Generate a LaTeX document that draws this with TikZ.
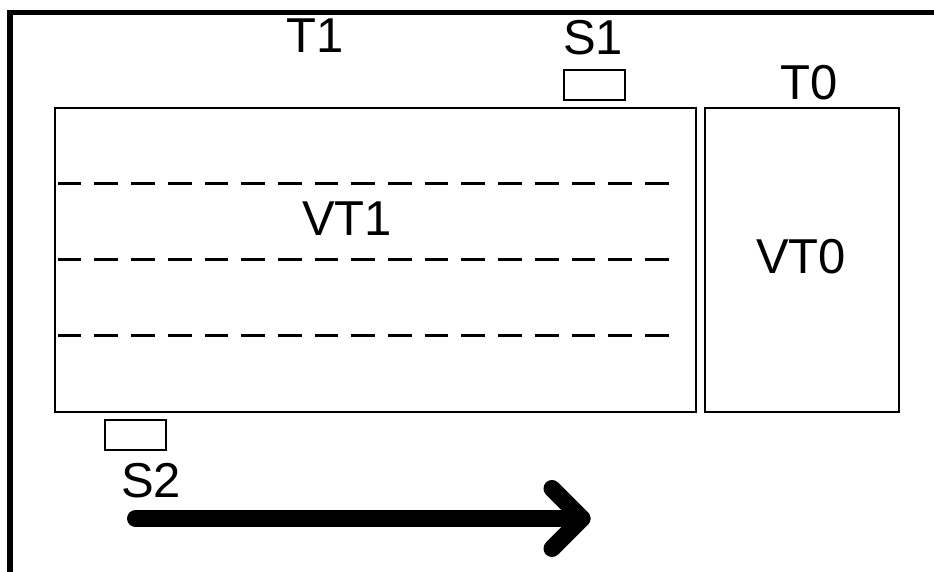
\documentclass[tikz,border=0pt]{standalone}
\usepackage{fontspec}
\setmainfont{Liberation Sans}
\begin{document}
\begin{tikzpicture}[x=1bp,y=-1bp,
  lbl/.style={inner sep=0pt,font=\fontsize{49bp}{58bp}\selectfont},
  zone/.style={draw,line width=2bp,inner sep=0pt,anchor=north west},
  sensor/.style={draw,line width=1.8bp,inner sep=0pt,anchor=north west,minimum width=61bp,minimum height=30bp},
  lane/.style={line width=2.9bp,dash pattern=on 23.7bp off 13bp},
  frame/.style={line width=5.5bp},
  motion/.style={line width=17bp,line cap=round,line join=round}]
\useasboundingbox (0,0) rectangle (934,572);

% outer frame: top and left sides
\draw[frame] (10,572) -- (10,12.5) -- (934,12.5);

% zones
\node[zone,minimum width=641bp,minimum height=304bp] (vt1) at (54,107) {};
\node[zone,minimum width=194bp,minimum height=304bp] (vt0) at (704,107) {};

% lane separators inside VT1
\foreach \yy in {183.3,259.5,335.7}
  \draw[lane] (57.7,\yy) -- (668.5,\yy);

% sensors
\node[sensor] (s1) at (563,69) {};
\node[sensor] (s2) at (104,419) {};

% labels
\node[lbl] (t1) at (315,36) {T1};
\node[lbl] (s1l) at (593,38) {S1};
\node[lbl] (t0) at (809,83) {T0};
\node[lbl] (vt1l) at (347,218.5) {VT1};
\node[lbl] (vt0l) at (801,256.5) {VT0};
\node[lbl] (s2l) at (151,481) {S2};

% direction of travel
\coordinate (a0) at (135.5,518.5);
\coordinate (a1) at (582,518.5);
\coordinate (h1) at (552,488.5);
\coordinate (h2) at (552,548.5);
\draw[motion] (a0) -- (a1);
\draw[motion] (h1) -- (a1) -- (h2);
\end{tikzpicture}
\end{document}
